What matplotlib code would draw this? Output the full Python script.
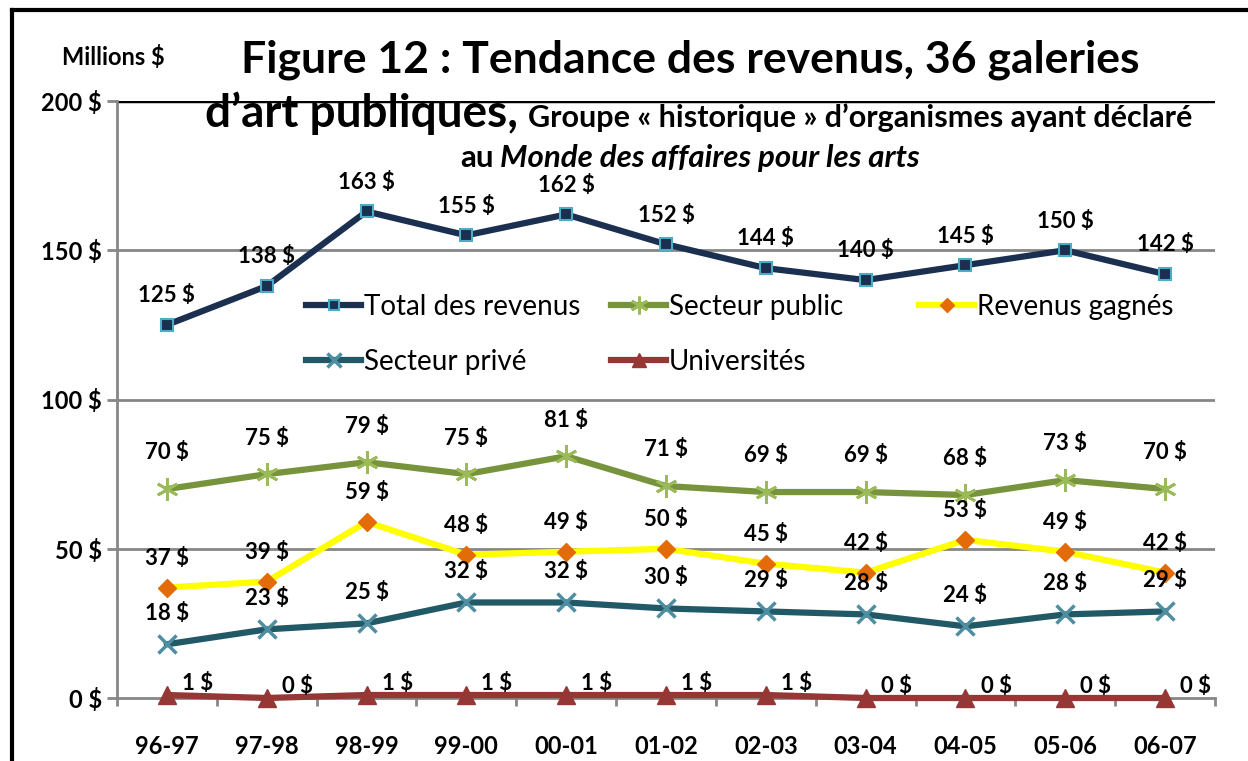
import matplotlib
matplotlib.use("Agg")
import matplotlib.pyplot as plt
from matplotlib.lines import Line2D

# data
years = ["96-97", "97-98", "98-99", "99-00", "00-01", "01-02",
         "02-03", "03-04", "04-05", "05-06", "06-07"]
total = [125, 138, 163, 155, 162, 152, 144, 140, 145, 150, 142]
public = [70, 75, 79, 75, 81, 71, 69, 69, 68, 73, 70]
earned = [37, 39, 59, 48, 49, 50, 45, 42, 53, 49, 42]
private = [18, 23, 25, 32, 32, 30, 29, 28, 24, 28, 29]
univ = [1, 0, 1, 1, 1, 1, 1, 0, 0, 0, 0]
y_ticks = [0, 50, 100, 150, 200]

plt.rcParams["font.family"] = ["Lato", "DejaVu Sans"]

W, H = 1248, 761
fig = plt.figure(figsize=(W / 100, H / 100), dpi=100)
fig.patch.set_facecolor("white")


def fx(px):
    return px / W


def fy(py):
    return 1 - py / H


ax = fig.add_axes([fx(117), fy(698), fx(1215) - fx(117), fy(101) - fy(698)])
x = list(range(len(years)))

series = [
    # values, line colour, marker, marker face, marker edge, size, mew, label
    (total, "#1B3050", "s", "#1B3050", "#4BACC6", 9, 1.5, "Total des revenus"),
    (public, "#77933C", (6, 2, 0), "#9BBB59", "#9BBB59", 16, 2.0, "Secteur public"),
    (earned, "#FFFF00", "D", "#E36C09", "#E36C09", 9, 1.0, "Revenus gagnés"),
    (private, "#215967", "x", "#4F8EA0", "#4F8EA0", 13, 2.5, "Secteur privé"),
    (univ, "#953735", "^", "#953735", "#953735", 13, 1.0, "Universités"),
]

handles = []
for vals, lc, mk, mfc, mec, ms, mew, lab in series:
    h, = ax.plot(x, vals, color=lc, lw=4.5, marker=mk, markersize=ms,
                 markerfacecolor=mfc, markeredgecolor=mec, markeredgewidth=mew,
                 label=lab, zorder=3, clip_on=False)
    handles.append(h)

# data labels (offsets in points)
label_off = [(0, 21), (0, 26), (0, 21), (0, 22), (22, 8)]
for (vals, *_), (dx, dy) in zip(series, label_off):
    for i, v in enumerate(vals):
        ax.annotate(f"{v} $", (i, v), xytext=(dx, dy), textcoords="offset points",
                    ha="center", va="center", fontsize=16, fontweight="bold",
                    zorder=5)

ax.set_xlim(-0.5, len(years) - 0.5)
ax.set_ylim(0, 200)
ax.set_yticks(y_ticks)
ax.set_yticklabels([f"{t} $" for t in y_ticks])
ax.set_xticks(x)
ax.set_xticklabels(years)
ax.set_xticks([i + 0.5 for i in range(-1, len(years))], minor=True)

ax.tick_params(axis="y", length=7, width=2, color="#868686", pad=4,
               labelsize=17)
ax.tick_params(axis="x", which="major", length=0, pad=27, labelsize=17)
ax.tick_params(axis="x", which="minor", length=6, width=2, color="#868686",
               direction="out")
for lbl in ax.get_xticklabels() + ax.get_yticklabels():
    lbl.set_fontweight("bold")

for t in [50, 100, 150]:
    ax.axhline(t, color="#868686", lw=2, zorder=1)
ax.axhline(200, color="black", lw=2.5, zorder=1)

for s in ["top", "right"]:
    ax.spines[s].set_visible(False)
for s in ["left", "bottom"]:
    ax.spines[s].set_color("#868686")
    ax.spines[s].set_linewidth(2)

# legend: three columns placed separately
cols = [(300, [0, 3]), (605, [1, 4]), (913, [2])]
for left, idx in cols:
    fig.legend([handles[i] for i in idx], [series[i][7] for i in idx],
               loc="upper left", bbox_to_anchor=(fx(left - 8), fy(280)),
               frameon=False, fontsize=20, handlelength=2.0,
               handletextpad=0.1, labelspacing=1.05, borderpad=0,
               markerscale=0.8)

# titles
fig.text(fx(690), fy(72), "Figure 12 : Tendance des revenus, 36 galeries",
         ha="center", va="baseline", fontsize=32, fontweight="bold")
t1 = fig.text(fx(205), fy(127), "d\u2019art publiques,", ha="left",
              va="baseline", fontsize=33, fontweight="bold")
renderer = fig.canvas.get_renderer()
b1 = t1.get_window_extent(renderer)
fig.text((b1.x1 + 10) / W, fy(127),
         "Groupe « historique » d\u2019organismes ayant déclaré",
         ha="left", va="baseline", fontsize=22, fontweight="bold")

# third line: "au" + italic part, centred as a whole
t3 = fig.text(0, fy(167), "au", ha="left", va="baseline",
              fontsize=22.5, fontweight="bold")
t4 = fig.text(0, fy(167), "Monde des affaires pour les arts", ha="left",
              va="baseline", fontsize=22.5, fontweight="bold", style="italic")
w3 = t3.get_window_extent(renderer).width
w4 = t4.get_window_extent(renderer).width
start = 690 - (w3 + 7 + w4) / 2
t3.set_x(start / W)
t4.set_x((start + w3 + 7) / W)

fig.text(fx(62), fy(57), "Millions $", ha="left", va="center", fontsize=17,
         fontweight="bold")

# outer frame
fig.add_artist(Line2D([fx(12), fx(12)], [0, fy(10)], color="black", lw=3))
fig.add_artist(Line2D([fx(12), 1], [fy(10), fy(10)], color="black", lw=3))

fig.savefig("out.png", dpi=100)
